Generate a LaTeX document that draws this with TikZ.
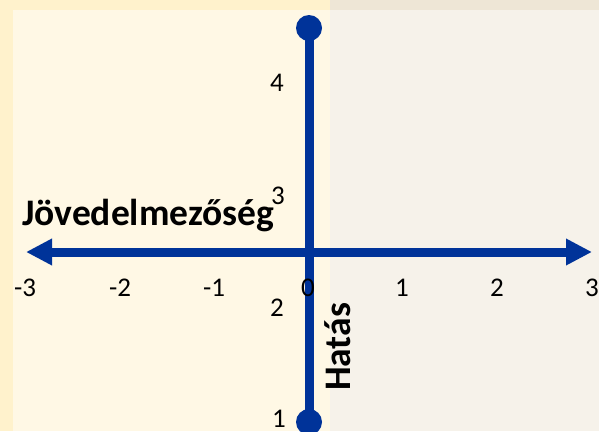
\documentclass[tikz,border=0pt]{standalone}
\usepackage{fontspec}
\setmainfont{Carlito}
\usetikzlibrary{arrows.meta}
\definecolor{outerY}{HTML}{FFF2CC}
\definecolor{outerG}{HTML}{EEE6D6}
\definecolor{axisblue}{HTML}{003399}
\begin{document}
\begin{tikzpicture}[x=1pt,y=-1pt,
  axisline/.style={draw=axisblue, line width=9pt},
  enddot/.style={circle, fill=axisblue, minimum size=26pt, inner sep=0pt},
  ticklbl/.style={font=\fontsize{27}{27}\selectfont, inner sep=0pt, text=black},
  axislbl/.style={font=\fontsize{37.5}{37.5}\selectfont\bfseries, inner sep=0pt, text=black}]
  % background
  \fill[outerY] (0,0) rectangle (330,431);
  \fill[outerG] (330,0) rectangle (599,431);
  \fill[white, opacity=0.5] (13,10) rectangle (599,431);
  \useasboundingbox (0,0) rectangle (599,431);
  % axes
  \node[enddot] (ytop) at (309,28) {};
  \node[enddot] (ybot) at (309,422) {};
  \draw[axisline] (ytop.center) -- (ybot.center);
  \coordinate (xl) at (26,252);
  \coordinate (xr) at (592,252);
  \draw[axisline, {Triangle[length=26pt,width=25pt]}-{Triangle[length=26pt,width=25pt]}] (xl) -- (xr);
  % x tick labels
  \node[ticklbl] (xm3) at (25,288) {-3};
  \node[ticklbl] (xm2) at (120,288) {-2};
  \node[ticklbl] (xm1) at (214,288) {-1};
  \node[ticklbl] (x0) at (308,288) {0};
  \node[ticklbl] (x1) at (402,288) {1};
  \node[ticklbl] (x2) at (497,288) {2};
  \node[ticklbl] (x3) at (592,288) {3};
  % y tick labels
  \node[ticklbl] (y4) at (277,83) {4};
  \node[ticklbl] (y3) at (278,196) {3};
  \node[ticklbl] (y2) at (277,308) {2};
  \node[ticklbl] (y1) at (279,419) {1};
  % axis titles
  \node[axislbl, anchor=base west] (xtitle) at (22,225) {Jövedelmezőség};
  \node[axislbl, rotate=90] (ytitle) at (338,347) {Hatás};
\end{tikzpicture}
\end{document}
